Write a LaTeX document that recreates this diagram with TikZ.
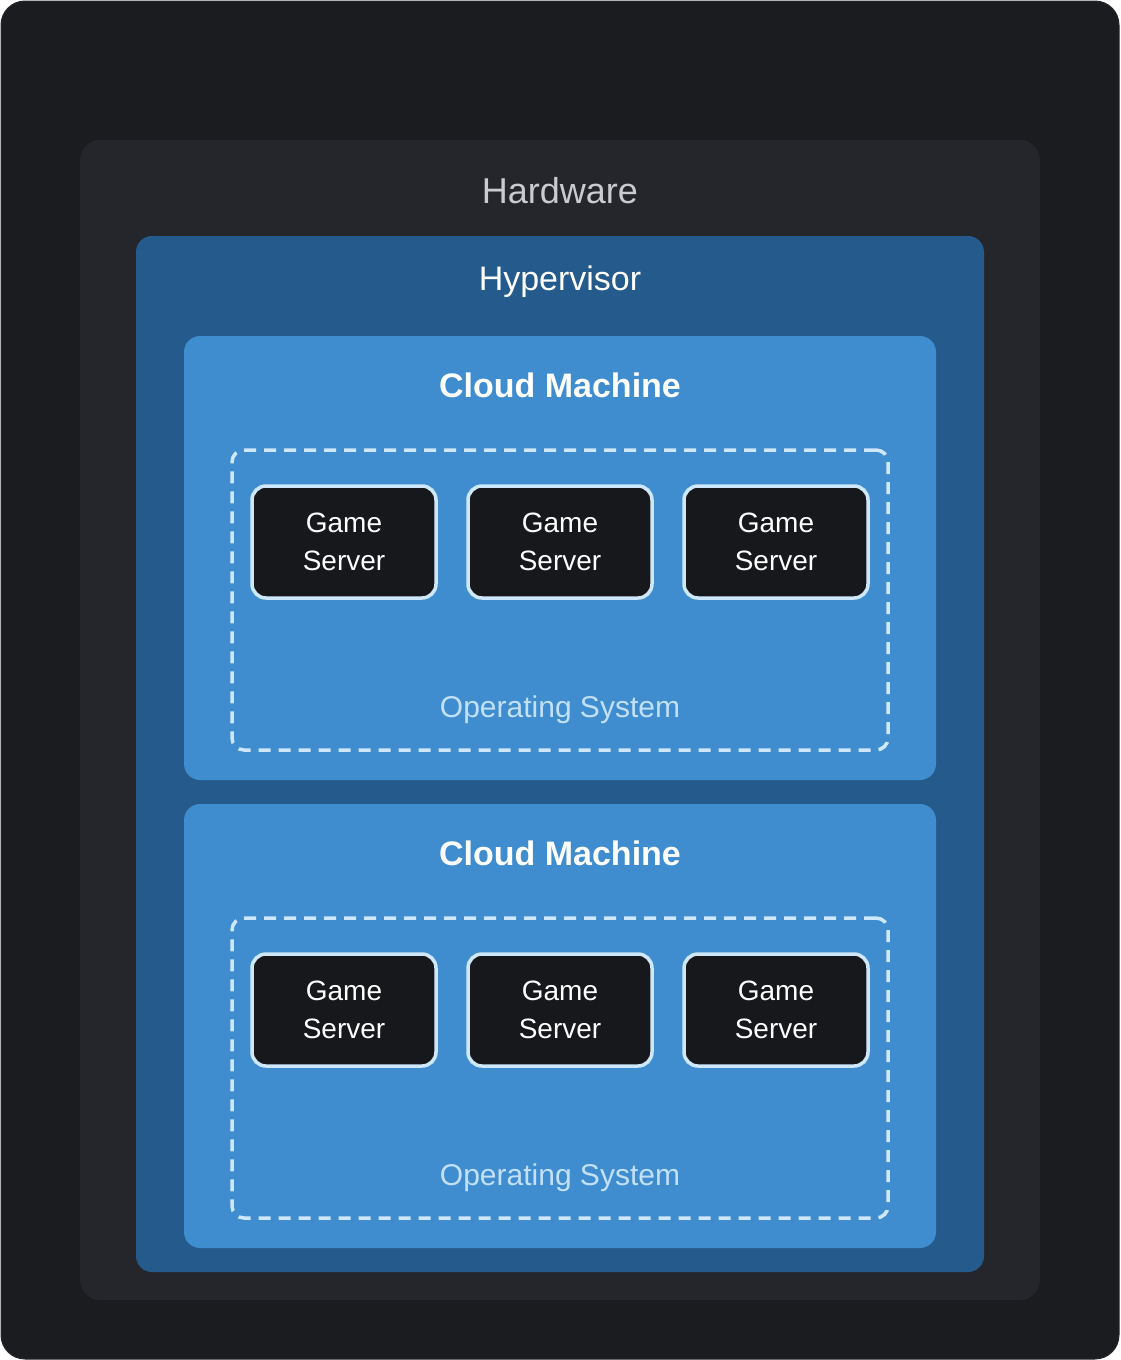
\documentclass[tikz,border=0pt]{standalone}
\usepackage{fontspec}
\setmainfont{Liberation Sans}
\definecolor{outerbg}{HTML}{1B1C20}
\definecolor{hwbg}{HTML}{25262B}
\definecolor{hvbg}{HTML}{245A8C}
\definecolor{cmbg}{HTML}{3F8DCF}
\definecolor{gsbg}{HTML}{17181C}
\definecolor{gsline}{HTML}{CFE7FB}
\definecolor{ostext}{HTML}{C2E0F8}
\definecolor{hwtext}{HTML}{C9CBD0}
\tikzset{
  box/.style={anchor=north west, inner sep=0pt, outer sep=0pt, rectangle},
  gamebox/.style={box, fill=gsbg, draw=gsline, line width=3.5pt, rounded corners=14pt,
     minimum width=184pt, minimum height=112pt},
  osbox/.style={box, draw=gsline, line width=3.5pt, dash pattern=on 12pt off 8pt, rounded corners=12pt,
     minimum width=656pt, minimum height=300pt},
  cmbox/.style={box, fill=cmbg, rounded corners=16pt, minimum width=752pt, minimum height=444pt},
  gstext/.style={text=white, align=center, font=\fontsize{28}{38}\selectfont},
  cmtitle/.style={text=white, font=\fontsize{34}{40}\selectfont\bfseries},
  ostitle/.style={text=ostext, font=\fontsize{30}{36}\selectfont},
}
\begin{document}
\begin{tikzpicture}[x=1pt,y=-1pt]
\path[use as bounding box, fill=white] (0,0) rectangle (1120,1360);
\node[box, fill=outerbg, draw=hwbg, line width=1pt, rounded corners=24pt, minimum width=1118pt, minimum height=1358pt] (outer) at (1,1) {};
\node[box, fill=hwbg, rounded corners=20pt, minimum width=960pt, minimum height=1160pt] (hw) at (80,140) {};
\node[text=hwtext, font=\fontsize{36}{42}\selectfont] (hwlabel) at (560,191) {Hardware};
\node[box, fill=hvbg, rounded corners=16pt, minimum width=848pt, minimum height=1036pt] (hv) at (136,236) {};
\node[text=white, font=\fontsize{34}{40}\selectfont] (hvlabel) at (560,282) {Hypervisor};
% Cloud machine 1
\node[cmbox] (cm1) at (184,336) {};
\node[cmtitle] (cm1label) at (560,385) {Cloud Machine};
\node[osbox] (os1) at (232,450) {};
\node[ostitle] (os1label) at (560,710) {Operating System};
\node[gamebox] (gs11) at (252,486) {};
\node[gamebox] (gs12) at (468,486) {};
\node[gamebox] (gs13) at (684,486) {};
\node[gstext] (gs11t) at (gs11.center) {Game\\Server};
\node[gstext] (gs12t) at (gs12.center) {Game\\Server};
\node[gstext] (gs13t) at (gs13.center) {Game\\Server};
% Cloud machine 2
\node[cmbox] (cm2) at (184,804) {};
\node[cmtitle] (cm2label) at (560,853) {Cloud Machine};
\node[osbox] (os2) at (232,918) {};
\node[ostitle] (os2label) at (560,1178) {Operating System};
\node[gamebox] (gs21) at (252,954) {};
\node[gamebox] (gs22) at (468,954) {};
\node[gamebox] (gs23) at (684,954) {};
\node[gstext] (gs21t) at (gs21.center) {Game\\Server};
\node[gstext] (gs22t) at (gs22.center) {Game\\Server};
\node[gstext] (gs23t) at (gs23.center) {Game\\Server};
\end{tikzpicture}
\end{document}
